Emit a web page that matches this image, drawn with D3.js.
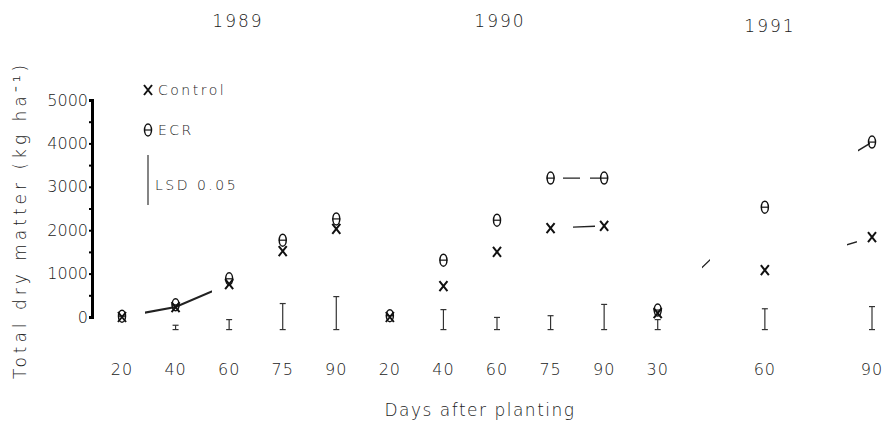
<!DOCTYPE html>
<html><head><meta charset="utf-8">
<script src="https://cdn.jsdelivr.net/npm/d3@7"></script>
<style>
body{margin:0;background:#fff;}
text{font-family:"DejaVu Sans",sans-serif;font-weight:200;fill:#222;}
</style></head><body>
<svg id="c" width="883" height="422"></svg>
<script>
// ---- data ----
const years = ["1989", "1990", "1991"];
const yearOf = [0,0,0,0,0,1,1,1,1,1,2,2,2];
const dayLabels = ["20","40","60","75","90","20","40","60","75","90","30","60","90"];
const slot = [0,1,2,3,4,5,6,7,8,9,10,12,14];   // position index along x
const control = [0, 230, 760, 1520, 2030, 0, 710, 1500, 2050, 2100, 90, 1080, 1840];
const ecr     = [20, 280, 880, 1770, 2260, 30, 1310, 2230, 3200, 3200, 160, 2530, 4030];
const lsd     = [null, 100, 230, 600, 760, null, 460, 280, 320, 580, 230, 480, 530];
const yTicks  = [0, 1000, 2000, 3000, 4000, 5000];

const svg = d3.select("#c");
const x = d3.scaleLinear().domain([0, 14]).range([122, 872]);
const y = d3.scaleLinear().domain([0, 5000]).range([317, 100]);

// y axis
const ax = svg.append("g").attr("transform","translate(92,0)")
  .call(d3.axisLeft(y).tickValues(d3.range(0,5001,500)).tickSize(3).tickFormat(d => yTicks.includes(d) ? d : ""));
ax.select(".domain").attr("stroke","#000").attr("stroke-width",3);
ax.selectAll(".tick line").attr("stroke","#000").attr("stroke-width",2);
ax.selectAll(".tick text").attr("font-size",16).attr("x",-4)
  .style("font-family","DejaVu Sans").style("font-weight",200).attr("fill","#222");

// y label
svg.append("text").attr("transform","translate(26,220) rotate(-90)")
  .attr("text-anchor","middle").attr("font-size",17).attr("letter-spacing",4)
  .text("Total dry matter (kg ha⁻¹)");

// year titles
const yearPos = [[238,27],[500,27],[770,32]];
years.forEach((t,i)=>svg.append("text").attr("x",yearPos[i][0]).attr("y",yearPos[i][1])
  .attr("text-anchor","middle").attr("font-size",17).attr("letter-spacing",2).text(t));

// x tick labels
svg.append("g").selectAll("text").data(dayLabels).join("text")
  .attr("x",(d,i)=>x(slot[i])).attr("y",375).attr("text-anchor","middle")
  .attr("font-size",16).attr("letter-spacing",1).text(d=>d);
svg.append("text").attr("x",480).attr("y",416).attr("text-anchor","middle")
  .attr("font-size",17).attr("letter-spacing",1.5).text("Days after planting");

// line fragments (connecting lines only partly visible): [series, x0, x1]
const frags = [[0,145,212],[0,573,595],[1,563,580],[1,590,600],[1,702,710],[0,847,857],[1,858,870]];
const defs = svg.append("defs");
const series = [control, ecr];
series.forEach((ser,si)=>{
  const cp = defs.append("clipPath").attr("id","fr"+si);
  frags.filter(f=>f[0]===si).forEach(f=>cp.append("rect").attr("x",f[1]).attr("y",0).attr("width",f[2]-f[1]).attr("height",422));
  const lineG = svg.append("g").attr("clip-path",`url(#fr${si})`);
  years.forEach((yr,yi)=>{
    const idx = d3.range(13).filter(i=>yearOf[i]===yi);
    lineG.append("path").datum(idx)
      .attr("d", d3.line().x(i=>x(slot[i])).y(i=>y(ser[i])))
      .attr("fill","none").attr("stroke","#222").attr("stroke-width",si===0&&yi===0?2.2:1.4);
  });
});

// LSD bars
const lsdBase = -290;
const lg = svg.append("g").attr("stroke","#333").attr("stroke-width",1.2);
lsd.forEach((v,i)=>{
  if(v==null) return;
  const cx = x(slot[i]), y0 = y(lsdBase), y1 = y(lsdBase+v);
  lg.append("line").attr("x1",cx).attr("x2",cx).attr("y1",y0).attr("y2",y1);
  lg.append("line").attr("x1",cx-3).attr("x2",cx+3).attr("y1",y0).attr("y2",y0);
  lg.append("line").attr("x1",cx-3).attr("x2",cx+3).attr("y1",y1).attr("y2",y1);
});

// markers
function cross(g,cx,cy){
  g.append("path").attr("d",`M${cx-4},${cy-5}L${cx+4},${cy+5}M${cx+4},${cy-5}L${cx-4},${cy+5}`)
   .attr("stroke","#111").attr("stroke-width",2).attr("fill","none");
}
function theta(g,cx,cy){
  g.append("ellipse").attr("cx",cx).attr("cy",cy).attr("rx",3.5).attr("ry",6)
   .attr("stroke","#111").attr("stroke-width",1.5).attr("fill","none");
  g.append("line").attr("x1",cx-4).attr("x2",cx+4).attr("y1",cy).attr("y2",cy)
   .attr("stroke","#111").attr("stroke-width",1.2);
}
const mg = svg.append("g");
control.forEach((v,i)=>cross(mg, x(slot[i]), y(v)));
ecr.forEach((v,i)=>theta(mg, x(slot[i]), y(v)));

// legend
cross(mg,148,90);
svg.append("text").attr("x",158).attr("y",95).attr("font-size",14).attr("letter-spacing",2.5).text("Control");
theta(mg,148,130);
svg.append("text").attr("x",158).attr("y",135).attr("font-size",14).attr("letter-spacing",2.5).text("ECR");
svg.append("line").attr("x1",148).attr("x2",148).attr("y1",155).attr("y2",205).attr("stroke","#333").attr("stroke-width",1.2);
svg.append("text").attr("x",155).attr("y",190).attr("font-size",14).attr("letter-spacing",2.5).text("LSD 0.05");
</script>
</body></html>
